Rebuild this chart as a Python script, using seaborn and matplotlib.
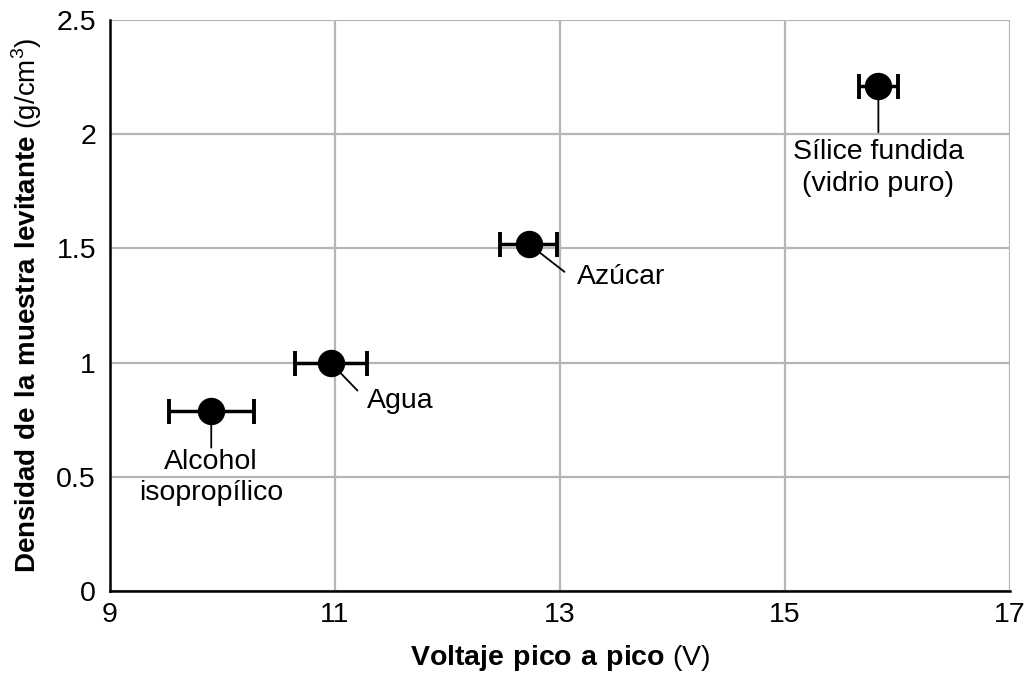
import seaborn as sns
import matplotlib.pyplot as plt
import pandas as pd
import numpy as np

# data
muestras = ["Alcohol\nisopropílico", "Agua", "Azúcar", "Sílice fundida\n(vidrio puro)"]
voltaje = [9.90, 10.96, 12.72, 15.83]
voltaje_err = [0.38, 0.32, 0.25, 0.17]
densidad = [0.79, 1.00, 1.52, 2.21]

x_ticks = [9, 11, 13, 15, 17]
y_ticks = [0, 0.5, 1, 1.5, 2, 2.5]

df = pd.DataFrame({"muestra": muestras, "voltaje": voltaje,
                   "err": voltaje_err, "densidad": densidad})

sns.set_style("white")
plt.rcParams['font.family'] = ['Liberation Sans', 'DejaVu Sans']
plt.rcParams['mathtext.fontset'] = 'custom'
plt.rcParams['mathtext.rm'] = 'Liberation Sans'
plt.rcParams['mathtext.bf'] = 'Liberation Sans:bold'
plt.rcParams['text.color'] = 'black'
plt.rcParams['axes.labelcolor'] = 'black'
plt.rcParams['xtick.labelcolor'] = 'black'
plt.rcParams['ytick.labelcolor'] = 'black'

fs = 20.5

fig = plt.figure(figsize=(10.29, 6.73), dpi=100)
ax = fig.add_axes([110/1029, 1-591/673, 900/1029, 571/673])

ax.errorbar(df["voltaje"], df["densidad"], xerr=df["err"], fmt="none",
            ecolor="black", elinewidth=2.5, capsize=9, capthick=2.8, zorder=3)
sns.scatterplot(data=df, x="voltaje", y="densidad", color="black", s=390,
                edgecolor="black", linewidth=0, zorder=4, ax=ax, legend=False)

# label leader lines (line end offset, text offset, alignment) in pixels
layout = [((0, -37), (0, -38), "center", "top"),
          ((27, -28), (36, -38), "left", "center"),
          ((36, -28), (48, -33), "left", "center"),
          ((0, -46), (0, -53), "center", "top")]
for (lbl, xv, yv), (lend, tpos, ha, va) in zip(
        zip(df["muestra"], df["voltaje"], df["densidad"]), layout):
    ax.annotate("", xy=(xv, yv), xytext=lend, textcoords="offset pixels",
                arrowprops=dict(arrowstyle="-", color="black", lw=1.3,
                                shrinkA=0, shrinkB=0), zorder=2)
    ax.annotate(lbl, xy=(xv, yv), xytext=tpos, textcoords="offset pixels",
                ha=ha, va=va, fontsize=fs, linespacing=1.28)

ax.set_xlim(9, 17)
ax.set_ylim(0, 2.5)
ax.set_xticks(x_ticks)
ax.set_yticks(y_ticks)
ax.set_yticklabels([f"{v:g}" for v in y_ticks])
ax.grid(True, color="#b5b5b5", linewidth=1.6)
ax.set_axisbelow(True)
for s in ["top", "right"]:
    ax.spines[s].set_visible(False)
for s in ["left", "bottom"]:
    ax.spines[s].set_color("black")
    ax.spines[s].set_linewidth(1.8)
ax.tick_params(axis="y", length=7, width=1.6, color="#b5b5b5", labelsize=fs, pad=3)
ax.tick_params(axis="x", length=4, width=1.6, color="#b5b5b5", labelsize=fs, pad=4)

ax.set_xlabel(r"$\bf{Voltaje\ pico\ a\ pico}$ (V)", fontsize=fs, labelpad=11)
ax.set_ylabel(r"$\bf{Densidad\ de\ la\ muestra\ levitante}$ (g/cm$^3$)", fontsize=20, labelpad=9)

plt.savefig("out.png", dpi=100)
